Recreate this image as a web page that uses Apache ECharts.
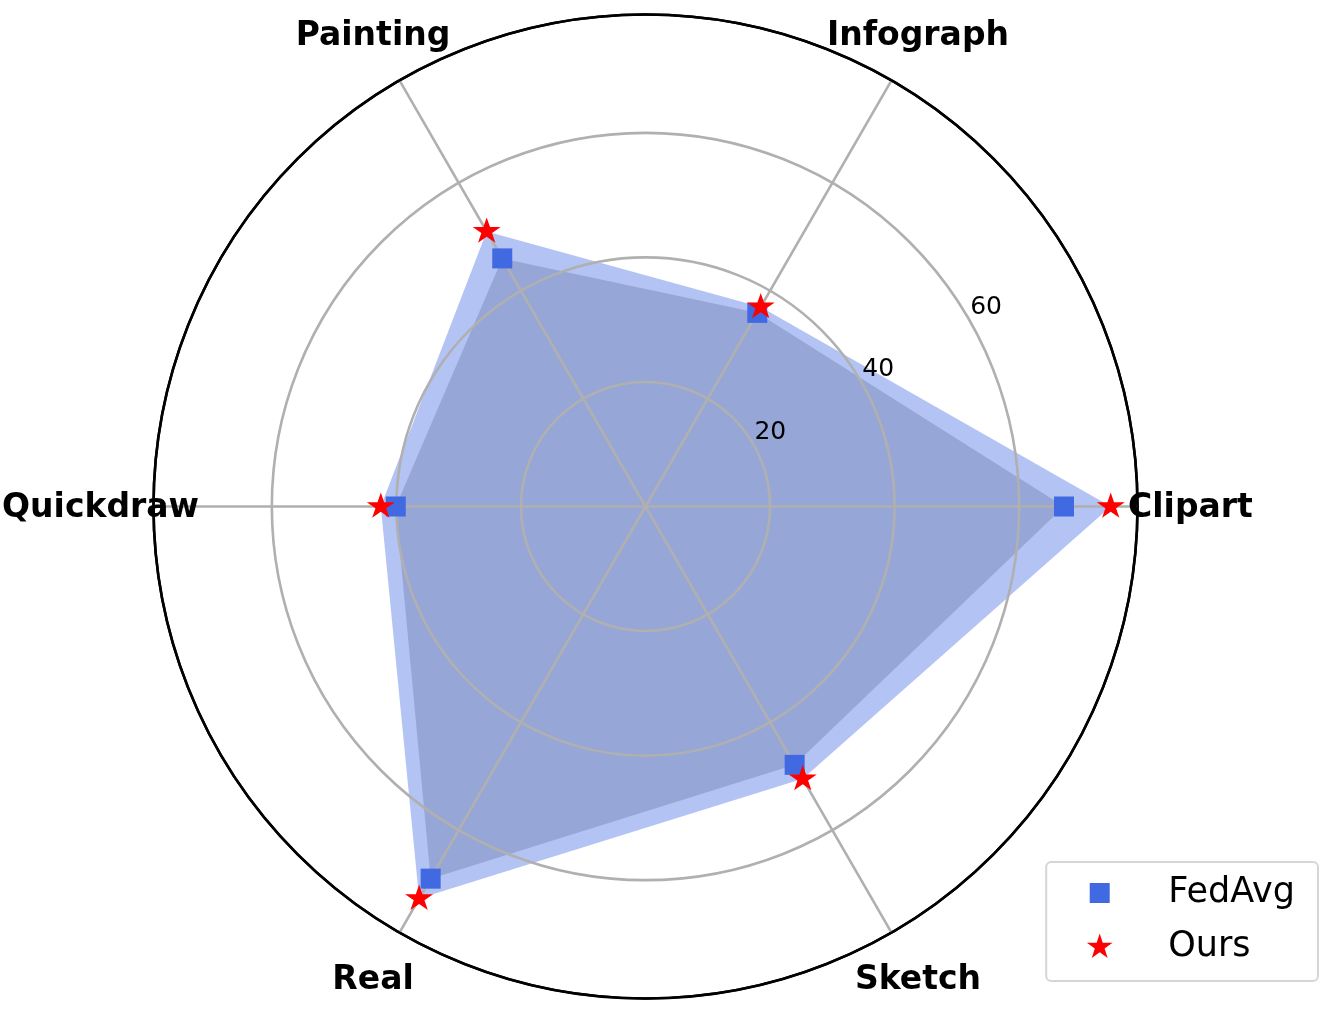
<!DOCTYPE html>
<html>
<head>
<meta charset="utf-8">
<script src="https://cdn.jsdelivr.net/npm/echarts@6/dist/echarts.min.js"></script>
<style>
  html, body { margin: 0; padding: 0; background: #fff; }
  #chart { width: 1328px; height: 1017px; }
</style>
</head>
<body>
<div id="chart"></div>
<script>
const categories = ['Clipart', 'Infograph', 'Painting', 'Quickdraw', 'Real', 'Sketch']
const fedAvg = [67.2, 35.9, 46.0, 40.1, 69.0, 47.9]
const ours = [74.7, 37.0, 51.0, 42.5, 72.7, 50.5]
const radialTicks = [20, 40, 60]
const rMax = 79

const CENTER = [645.5, 506.5]
const RADIUS = 492
const FONT = '"DejaVu Sans", sans-serif'
const GRID = '#b0b0b0'
const BLUE = '#4169e1'

// matplotlib-like star, extra moveTo keeps the star centre in the middle of the box
const STAR = 'path://M100,200M100,0L122.45,69.1L195.1,69.1L136.33,111.8L158.8,180.9L100,138.2L41.2,180.9L63.67,111.8L4.9,69.1L77.55,69.1Z'
const SQUARE_ICON = 'path://M0,0M27,27M3.5,3.5h20v20h-20z'

const step = 360 / categories.length
const nameRadius = 87.5   // in axis units, outside the outer circle

const chart = echarts.init(document.getElementById('chart'))

const indicator = categories.map(name => ({ name, min: 0, max: rMax }))

// plain black text placed at a polar point
function polarText(getText, fontSize, fontWeight, dx, dy) {
  return function (params, api) {
    const pt = api.coord([api.value(0), api.value(1)])
    return {
      type: 'text',
      x: pt[0] + dx,
      y: pt[1] + dy,
      style: {
        text: getText(params.dataIndex, api),
        fill: '#000',
        fontFamily: FONT,
        fontSize,
        fontWeight,
        align: 'center',
        verticalAlign: 'middle'
      }
    }
  }
}

chart.setOption({
  animation: false,
  textStyle: { color: '#000', fontFamily: FONT },
  polar: { center: CENTER, radius: RADIUS },
  angleAxis: {
    type: 'value',
    min: 0,
    max: 360,
    interval: step,
    startAngle: 0,
    clockwise: false,
    z: 2,
    axisLine: { lineStyle: { color: '#000', width: 2.5 } },
    axisTick: { show: false },
    axisLabel: { show: false },
    splitLine: { lineStyle: { color: GRID, width: 2.6 } }
  },
  radiusAxis: {
    type: 'value',
    min: 0,
    max: rMax,
    interval: 20,
    z: 2,
    axisLine: { show: false },
    axisTick: { show: false },
    axisLabel: { show: false },
    splitLine: { lineStyle: { color: [GRID, GRID, GRID, GRID, '#000'], width: 2.6 } }
  },
  radar: {
    center: CENTER,
    radius: RADIUS,
    startAngle: 0,
    shape: 'circle',
    indicator,
    axisName: { show: false },
    axisLine: { show: false },
    splitLine: { show: false },
    splitArea: { show: false }
  },
  legend: {
    right: 10,
    bottom: 36,
    orient: 'vertical',
    selectedMode: false,
    itemWidth: 27,
    itemHeight: 27,
    itemGap: 18,
    padding: [13, 23, 16, 40],
    borderColor: '#d6d6d6',
    borderWidth: 2,
    borderRadius: 5,
    backgroundColor: 'rgba(255,255,255,0.8)',
    textStyle: {
      fontFamily: FONT,
      fontSize: 35,
      lineHeight: 36,
      color: '#000',
      padding: [0, 0, 0, 50]
    },
    data: [
      { name: 'FedAvg', icon: SQUARE_ICON, itemStyle: { color: BLUE } },
      { name: 'Ours', icon: STAR, itemStyle: { color: 'red' } }
    ]
  },
  series: [
    {
      // filled areas, under the grid
      type: 'radar',
      z: 1,
      silent: true,
      symbol: 'none',
      lineStyle: { width: 0 },
      data: [
        { name: 'FedAvg', value: fedAvg, itemStyle: { color: BLUE }, areaStyle: { color: 'rgb(128,128,128)', opacity: 0.38 } },
        { name: 'Ours', value: ours, itemStyle: { color: 'red' }, areaStyle: { color: BLUE, opacity: 0.4 } }
      ]
    },
    {
      // markers, above the grid
      type: 'radar',
      z: 3,
      silent: true,
      lineStyle: { width: 0, opacity: 0 },
      data: [
        { name: 'FedAvg', value: fedAvg, symbol: 'rect', symbolSize: 20, itemStyle: { color: BLUE } },
        { name: 'Ours', value: ours, symbol: STAR, symbolSize: 28, symbolKeepAspect: true, itemStyle: { color: 'red' } }
      ]
    },
    {
      // category names
      type: 'custom',
      coordinateSystem: 'polar',
      z: 4,
      silent: true,
      renderItem: polarText(i => categories[i], 33, 'bold', 0, 2),
      data: categories.map((name, i) => [nameRadius, i * step])
    },
    {
      // radial tick labels
      type: 'custom',
      coordinateSystem: 'polar',
      z: 4,
      silent: true,
      renderItem: polarText((i, api) => String(api.value(0)), 25, 'normal', 17, -12),
      data: radialTicks.map(v => [v, 30])
    }
  ]
})

window.addEventListener('resize', () => chart.resize())
</script>
</body>
</html>
